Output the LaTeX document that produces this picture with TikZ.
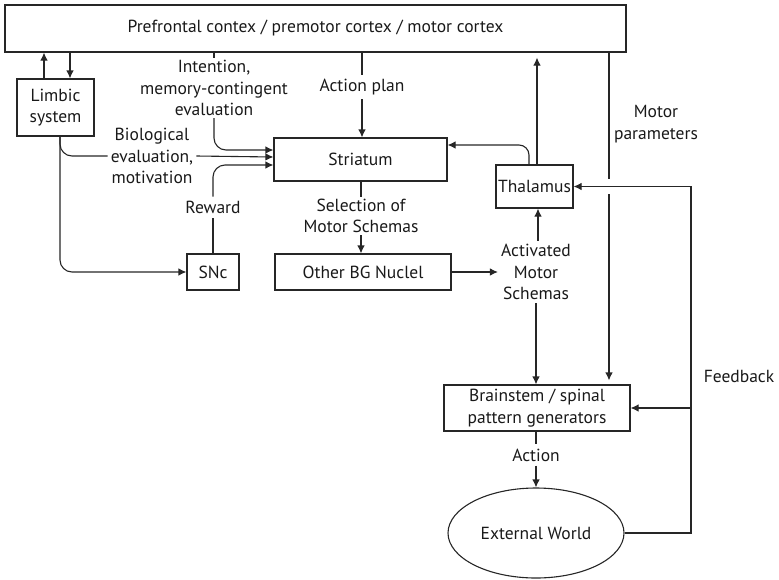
\documentclass[tikz,border=0pt]{standalone}
\usepackage{fontspec}
\setmainfont{PT Sans}
\usetikzlibrary{arrows.meta,shapes.geometric}
\begin{document}
\begin{tikzpicture}[x=1pt,y=-1pt,
  every node/.style={font=\fontsize{17.5}{21.5}\selectfont, text=black!90},
  box/.style={draw=black!85, line width=1.1pt, rectangle, inner sep=0pt, align=center},
  lbl/.style={align=center, inner sep=4pt},
  conn/.style={draw=black!85, line width=1.1pt},
  arr/.style={conn, -{Latex[length=8pt,width=7.5pt]}},
  rc/.style={rounded corners=12pt}]
\useasboundingbox (0,0) rectangle (779,579);

% boxes
\node[box, minimum width=621pt, minimum height=47pt] (cortex) at (315.5,28.5) {Prefrontal contex / premotor cortex / motor cortex};
\node[box, minimum width=77pt, minimum height=57pt] (limbic) at (55.5,107.5) {Limbic\\system};
\node[box, minimum width=173pt, minimum height=43pt] (striatum) at (360.5,159.5) {Striatum};
\node[box, minimum width=52pt, minimum height=36pt] (snc) at (213,272) {SNc};
\node[box, minimum width=176pt, minimum height=36pt] (other) at (363,272) {Other BG Nuclel};
\node[box, minimum width=77pt, minimum height=43pt] (thal) at (534.5,186.5) {Thalamus};
\node[box, minimum width=186pt, minimum height=46pt] (brain) at (537,408) {Brainstem / spinal\\pattern generators};
\node[draw=black!85, line width=1.1pt, ellipse, minimum width=176pt, minimum height=90pt, inner sep=0pt] (world) at (536,533) {External World};

% labels on the connectors
\node[lbl, inner sep=2pt] (intention) at (214,88) {Intention,\\memory-contingent\\evaluation};
\node[lbl] (actionplan) at (362,87) {Action plan};
\node[lbl, inner sep=3pt] (bio) at (152,156) {Biological\\evaluation,\\motivation};
\node[lbl] (reward) at (213,207) {Reward};
\node[lbl, inner sep=2pt] (selection) at (361,216) {Selection of\\Motor Schemas};
\node[lbl, inner sep=3pt] (activated) at (536,272) {Activated\\Motor\\Schemas};
\node[lbl] (motorparam) at (656,124) {Motor\\parameters};
\node[lbl] (feedback) at (739,376) {Feedback};
\node[lbl] (action) at (536,455) {Action};

% helper points
\coordinate (lb) at (60,136);
\coordinate (fbcorner) at (691,533);
\coordinate (fbbranch) at (691,408);
\coordinate (mpa) at (609,179);
\coordinate (mpb) at (609,194);

% cortex <-> limbic system
\draw[arr] (limbic.north -| 44,0) -- (cortex.south -| 44,0);
\draw[arr] (cortex.south -| 70,0) -- (limbic.north -| 70,0);

% inputs to the striatum
\draw[conn] (cortex.south -| intention) -- (intention.north);
\draw[arr, rc] (intention.south) |- ([yshift=9.5pt]striatum.west);
\draw[conn, rc] (lb) |- (bio.west);
\draw[arr] (bio.east) -- ([yshift=2.5pt]striatum.west);
\draw[conn] (snc.north) -- (reward.south);
\draw[arr, rc] (reward.north) |- ([yshift=-5.5pt]striatum.west);
\draw[arr, rc] (lb) |- (snc.west);
\draw[conn] (cortex.south -| actionplan) -- (actionplan.north);
\draw[arr] (actionplan.south) -- (striatum.north -| actionplan);

% striatum -> other BG nuclei -> thalamus
\draw[conn] (striatum.south -| selection) -- (selection.north);
\draw[arr] (selection.south) -- (other.north -| selection);
\draw[arr] (other.east) -- (activated.west);
\draw[arr] (activated.north -| 538,0) -- (thal.south -| 538,0);
\draw[arr] (activated.south) -- (brain.north -| activated);

% thalamus outputs
\draw[arr, shorten >=5pt] (thal.north -| 537,0) -- (cortex.south -| 537,0);
\draw[arr, rounded corners=10pt] (thal.north -| 529,0) |- ([yshift=14.5pt]striatum.east);

% motor parameters, bridging the feedback line
\draw[conn] (cortex.south -| mpa) -- (mpa);
\draw[arr, shorten >=4pt] (mpb) -- (brain.north -| mpb);

% feedback from the external world
\draw[arr] (world.east) -- (fbcorner) |- (thal.east);
\draw[arr] (fbbranch) -- (brain.east);

% action
\draw[conn] (brain.south -| action) -- (action.north);
\draw[arr] (action.south) -- (world.north);
\end{tikzpicture}
\end{document}
